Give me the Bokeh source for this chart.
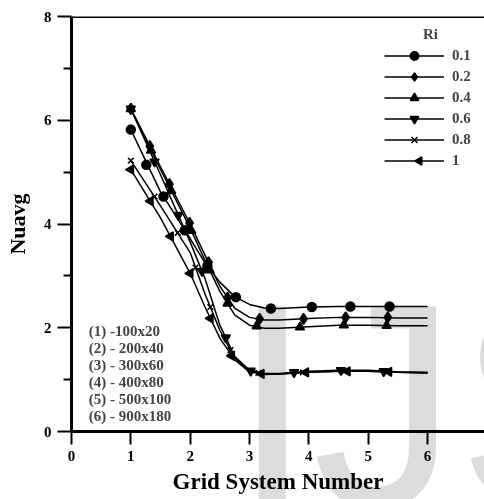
import numpy as np
from bokeh.plotting import figure
from bokeh.layouts import column
from bokeh.models import FixedTicker, Legend, LegendItem, Label, Span, Range1d, ColumnDataSource, Div
from bokeh.embed import file_html
from bokeh.resources import INLINE

# ---------------- data ----------------
ri_labels = ["0.1", "0.2", "0.4", "0.6", "0.8", "1"]
curve_x = [1, 1.5, 2, 2.25, 2.5, 2.75, 3, 3.25, 3.5, 4, 4.5, 5, 5.5, 6]
nu_01 = [5.82, 4.62, 3.72, 3.25, 2.88, 2.60, 2.45, 2.38, 2.37, 2.40, 2.41, 2.41, 2.41, 2.41]
nu_02 = [6.22, 5.10, 4.00, 3.40, 2.80, 2.38, 2.20, 2.15, 2.15, 2.18, 2.20, 2.20, 2.19, 2.19]
nu_04 = [6.22, 5.05, 3.92, 3.30, 2.70, 2.25, 2.05, 1.99, 1.99, 2.02, 2.05, 2.05, 2.04, 2.04]
nu_06 = [6.22, 4.95, 3.65, 2.95, 2.05, 1.45, 1.18, 1.12, 1.12, 1.16, 1.18, 1.18, 1.15, 1.14]
nu_08 = [5.22, 4.35, 3.45, 2.65, 1.95, 1.42, 1.17, 1.11, 1.11, 1.14, 1.16, 1.16, 1.14, 1.13]
nu_10 = [5.05, 4.12, 3.05, 2.40, 1.80, 1.38, 1.15, 1.10, 1.11, 1.14, 1.16, 1.16, 1.14, 1.13]

mk_01_x = [1, 1.26, 1.55, 1.91, 2.29, 2.77, 3.36, 4.05, 4.70, 5.36]
mk_01_y = [5.82, 5.14, 4.53, 3.88, 3.19, 2.59, 2.37, 2.40, 2.41, 2.41]
mk_02_x = [1, 1.32, 1.65, 1.99, 2.31, 2.63, 3.17, 3.91, 4.62, 5.33]
mk_02_y = [6.22, 5.50, 4.77, 4.02, 3.26, 2.58, 2.17, 2.17, 2.20, 2.20]
mk_04_x = [1, 1.34, 1.68, 2.02, 2.33, 2.63, 3.12, 3.85, 4.59, 5.31]
mk_04_y = [6.22, 5.42, 4.64, 3.87, 3.11, 2.47, 2.03, 2.01, 2.05, 2.04]
mk_06_x = [1, 1.40, 1.80, 2.20, 2.60, 3.02, 3.75, 4.54, 5.26]
mk_06_y = [6.22, 5.20, 4.17, 3.09, 1.81, 1.17, 1.14, 1.18, 1.16]
mk_08_x = [1, 1.40, 1.79, 2.09, 2.34, 2.68, 3.15, 3.90, 4.60, 5.32]
mk_08_y = [5.22, 4.53, 3.83, 3.16, 2.40, 1.57, 1.13, 1.14, 1.16, 1.15]
mk_10_x = [1, 1.33, 1.67, 2.00, 2.34, 2.70, 3.20, 3.95, 4.65, 5.35]
mk_10_y = [5.05, 4.44, 3.76, 3.05, 2.18, 1.46, 1.11, 1.14, 1.16, 1.15]

x_ticks = [0, 1, 2, 3, 4, 5, 6]
y_ticks = [0, 2, 4, 6, 8]
y_minor = [1, 3, 5, 7]
grid_labels = ["(1) -100x20", "(2) - 200x40", "(3) - 300x60",
               "(4) - 400x80", "(5) - 500x100", "(6) - 900x180"]
watermark = "IJS"

# ---------------- layout constants (pixels) ----------------
W, H = 484, 499
B_LEFT, B_TOP, B_BOTTOM = 71, 16, 68
X_END, Y_END = 6.96, 8.0
FRAME_W, FRAME_H = W - B_LEFT, H - B_TOP - B_BOTTOM
LEG_X, LEG_Y = 313, 260          # legend bottom-left inside frame
LEG_GLYPH_W, LEG_ROW, LEG_GAP = 60, 21, 0

# ---------------- figure ----------------
SERIF = "Liberation Serif"
p = figure(width=W, height=H, output_backend="svg", toolbar_location=None,
           x_range=Range1d(0, X_END), y_range=Range1d(0, Y_END),
           min_border_left=B_LEFT, min_border_right=0, min_border_top=B_TOP,
           min_border_bottom=B_BOTTOM)
p.xgrid.visible = False
p.ygrid.visible = False
p.outline_line_color = None
p.background_fill_color = "white"

for ax in (p.xaxis[0], p.yaxis[0]):
    ax.axis_line_width = 3
    ax.axis_line_color = "black"
    ax.major_tick_line_width = 2
    ax.minor_tick_line_width = 2
    ax.major_tick_in = 0
    ax.minor_tick_in = 0
    ax.major_label_text_font = SERIF
    ax.major_label_text_font_style = "bold"
    ax.major_label_text_font_size = "15px"
    ax.major_label_text_color = "black"
    ax.axis_label_text_font = SERIF
    ax.axis_label_text_font_style = "bold"
    ax.axis_label_text_color = "black"

p.xaxis.ticker = FixedTicker(ticks=x_ticks, minor_ticks=[])
p.xaxis.major_tick_out = 13
p.xaxis.major_label_standoff = 6
p.xaxis.axis_label = "Grid System Number"
p.xaxis.axis_label_text_font_size = "23px"
p.xaxis.axis_label_standoff = 5
p.yaxis.ticker = FixedTicker(ticks=y_ticks, minor_ticks=y_minor)
p.yaxis.major_tick_out = 14
p.yaxis.minor_tick_out = 8
p.yaxis.major_label_standoff = 6
p.yaxis.axis_label = "Nuavg"
p.yaxis.axis_label_text_font_size = "22px"
p.yaxis.axis_label_standoff = 11

p.add_layout(Span(location=Y_END, dimension="width", line_color="black", line_width=3))

series = [
    (nu_01, mk_01_x, mk_01_y, "circle", 9, 0.0),
    (nu_02, mk_02_x, mk_02_y, "diamond", 11, 0.0),
    (nu_04, mk_04_x, mk_04_y, "triangle", 9, 0.0),
    (nu_06, mk_06_x, mk_06_y, "inverted_triangle", 9, 0.0),
    (nu_08, mk_08_x, mk_08_y, "x", 8, 0.0),
    (nu_10, mk_10_x, mk_10_y, "triangle", 9, np.pi / 2),
]
items = []
for k, (lab, (ys, mx, my, mk, sz, ang)) in enumerate(zip(ri_labels, series)):
    lr = p.line(curve_x, ys, line_color="black", line_width=1.5)
    src = ColumnDataSource(dict(x=mx, y=my, a=[ang] * len(mx)))
    sr = p.scatter("x", "y", source=src, marker=mk, size=sz, angle="a", fill_color="black",
                   line_color="black", line_width=1.5)
    if ang == 0.0:
        items.append(LegendItem(label=lab, renderers=[lr, sr], index=0))
    else:
        # legends draw markers unrotated: add the rotated key marker separately
        items.append(LegendItem(label=lab, renderers=[lr], index=0))
        n_rows = len(ri_labels)
        row_from_bottom = n_rows - 1 - k
        cx_px = LEG_X + 5 + LEG_GLYPH_W / 2
        cy_px = LEG_Y + row_from_bottom * (LEG_ROW + LEG_GAP) + LEG_ROW / 2
        key = ColumnDataSource(dict(x=[cx_px / FRAME_W * X_END], y=[cy_px / FRAME_H * Y_END]))
        p.scatter("x", "y", source=key, marker=mk, size=8, angle=ang,
                  fill_color="black", line_color="black", line_width=1.5)

leg = Legend(items=items, location=(LEG_X, LEG_Y), glyph_width=LEG_GLYPH_W,
             glyph_height=LEG_ROW, label_height=LEG_ROW, spacing=LEG_GAP, padding=0,
             margin=0, label_standoff=8, border_line_color=None, background_fill_alpha=0,
             label_text_font=SERIF, label_text_font_style="bold",
             label_text_font_size="15px")
p.add_layout(leg)

p.add_layout(Label(x=6.05, y=7.67, text="Ri", text_font=SERIF, text_font_style="bold",
                   text_font_size="15px", text_align="center", text_baseline="middle"))

for i, t in enumerate(grid_labels):
    p.add_layout(Label(x=0.29, y=1.946 - i * 0.33, text=t, text_font=SERIF,
                       text_font_style="bold", text_font_size="15px",
                       text_align="left", text_baseline="middle"))

# light-grey watermark laid over the page, multiplied so black marks stay black
wm = Div(text=watermark, styles={
    "position": "absolute", "left": "227px", "top": "255px",
    "width": "257px", "height": "244px", "overflow": "hidden",
    "font-family": "Liberation Sans", "font-size": "290px", "line-height": "1",
    "color": "#dcdcdc", "mix-blend-mode": "multiply", "pointer-events": "none",
    "white-space": "nowrap", "z-index": "5"})

layout = column(p, wm)
open("out.html", "w").write(file_html(layout, INLINE))
